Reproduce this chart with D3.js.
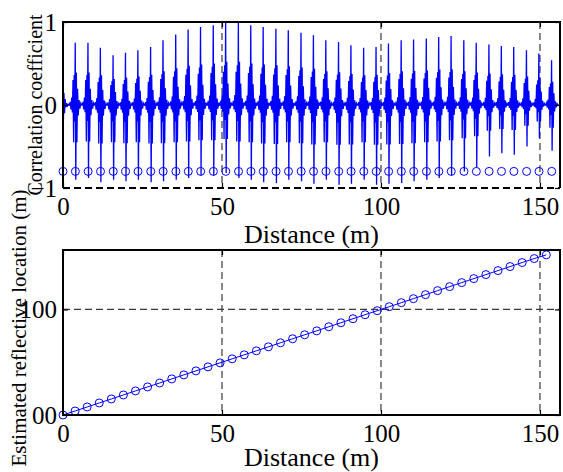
<!DOCTYPE html>
<html>
<head>
<meta charset="utf-8">
<script src="https://cdn.jsdelivr.net/npm/d3@7"></script>
<style>
  body { margin: 0; background: #fff; }
  svg { display: block; }
  svg text { font-family: "Liberation Serif", "Times New Roman", Times, "DejaVu Serif", serif; }
</style>
</head>
<body>
<div id="chart"></div>
<script>
// ---- data ----
// top panel: positions of the reflections (m) and their correlation peaks
const echoDist = [0.0, 3.9, 7.9, 11.8, 15.8, 19.7, 23.6, 27.6, 31.5, 35.5,
  39.4, 43.3, 47.3, 51.2, 55.2, 59.1, 63.0, 67.0, 70.9, 74.9,
  78.8, 82.7, 86.7, 90.6, 94.6, 98.5, 102.4, 106.4, 110.3, 114.3,
  118.2, 122.1, 126.1, 130.0, 134.0, 137.9, 141.8, 145.8, 149.7, 153.7];
const peakPos = [0.28, 0.75, 0.75, 0.69, 0.60, 0.63, 0.66, 0.70, 0.78, 0.85,
  0.91, 0.94, 0.96, 1.00, 1.00, 0.96, 0.94, 0.92, 0.90, 0.87,
  0.84, 0.78, 0.76, 0.72, 0.69, 0.70, 0.74, 0.78, 0.79, 0.80,
  0.82, 0.83, 0.78, 0.75, 0.73, 0.71, 0.70, 0.66, 0.62, 0.54];
const peakNeg = [-0.20, -0.90, -0.88, -0.93, -0.90, -0.92, -0.90, -0.93, -0.92, -0.90,
  -0.88, -0.85, -0.85, -0.82, -0.88, -0.90, -0.93, -0.94, -0.90, -0.92,
  -0.95, -0.90, -0.96, -0.95, -0.90, -0.96, -0.95, -0.94, -0.92, -0.90,
  -0.88, -0.85, -0.80, -0.75, -0.62, -0.58, -0.60, -0.50, -0.40, -0.55];
// shape of one correlation pulse (offset in m, relative level)
const pulseOffset = [-1.9, -1.6, -1.4, -1.15, -0.95, -0.75, -0.55, -0.38, -0.22, -0.05,
  0.12, 0.3, 0.48, 0.68, 0.9, 1.15, 1.4, 1.7, 1.95];
const pulseShape = [0.0, 0.05, -0.06, 0.12, -0.10, 0.40, -0.50, 0.48, -0.22, 1.00,
  -1.00, 0.52, -0.50, 0.26, -0.14, 0.08, -0.05, 0.03, 0.0];
const markerLevel = -0.8;

// bottom panel: distance vs estimated reflective location (m)
const trueDist = [0, 3.8, 7.6, 11.4, 15.2, 19.0, 22.8, 26.6, 30.4, 34.2,
  38.0, 41.8, 45.6, 49.4, 53.2, 57.0, 60.8, 64.6, 68.4, 72.2,
  76.0, 79.8, 83.6, 87.4, 91.2, 95.0, 98.8, 102.6, 106.4, 110.2,
  114.0, 117.8, 121.6, 125.4, 129.2, 133.0, 136.8, 140.6, 144.4, 148.2, 152.0];
const estLocation = [0, 3.8, 7.6, 11.4, 15.2, 19.0, 22.8, 26.6, 30.3, 34.2,
  38.0, 41.8, 45.6, 49.4, 53.2, 57.0, 60.8, 64.6, 68.4, 72.2,
  76.0, 79.7, 83.6, 87.4, 91.2, 95.0, 98.8, 102.6, 106.4, 110.2,
  114.0, 117.8, 121.6, 125.4, 129.2, 133.0, 136.8, 140.6, 144.4, 148.2, 151.7];

const distTicks = [0, 50, 100, 150];
const corrTicks = [-1, 0, 1];
const locTicks = [0, 100];
const locTickLabels = ['00', '100'];
const distMax = 156.3;

// ---- layout ----
const W = 563, H = 472;
const left = 63, right = 560;
const topPanel = { top: 22, bottom: 188 };
const botPanel = { top: 250, bottom: 415 };
const gridColor = '#3a3a3a';
const serif = '"Liberation Serif", "Times New Roman", Times, "DejaVu Serif", serif';

const svg = d3.select('#chart').append('svg')
  .attr('width', W).attr('height', H)
  .attr('font-family', serif);
svg.append('rect').attr('width', W).attr('height', H).attr('fill', '#fff');

const x = d3.scaleLinear().domain([0, distMax]).range([left, right]);
const yCorr = d3.scaleLinear().domain([-1, 1]).range([topPanel.bottom, topPanel.top]);
const yLoc = d3.scaleLinear().domain([0, distMax]).range([botPanel.bottom, botPanel.top]);

function drawGrid(g, yScale, yGrid, p) {
  g.selectAll('.vgrid').data(distTicks.filter(d => d > 0)).enter()
    .append('line')
    .attr('x1', d => x(d)).attr('x2', d => x(d))
    .attr('y1', p.top).attr('y2', p.bottom)
    .attr('stroke', gridColor).attr('stroke-width', 1.2)
    .attr('stroke-dasharray', '7,4');
  g.selectAll('.hgrid').data(yGrid).enter()
    .append('line')
    .attr('x1', left).attr('x2', right)
    .attr('y1', d => yScale(d)).attr('y2', d => yScale(d))
    .attr('stroke', gridColor).attr('stroke-width', 1.2)
    .attr('stroke-dasharray', '7,4');
}

function drawAxes(g, yScale, yTicks, yFormat, p) {
  // bottom x axis, ticks pointing inward
  const xb = g.append('g').attr('transform', `translate(0,${p.bottom})`)
    .call(d3.axisBottom(x).tickValues(distTicks).tickSizeInner(-5).tickSizeOuter(0).tickPadding(9));
  // mirrored top ticks
  const xt = g.append('g').attr('transform', `translate(0,${p.top})`)
    .call(d3.axisTop(x).tickValues(distTicks).tickSizeInner(-5).tickSizeOuter(0).tickFormat(''));
  const yl = g.append('g').attr('transform', `translate(${left},0)`)
    .call(d3.axisLeft(yScale).tickValues(yTicks).tickFormat(yFormat)
      .tickSizeInner(-5).tickSizeOuter(0).tickPadding(6));
  const yr = g.append('g').attr('transform', `translate(${right},0)`)
    .call(d3.axisRight(yScale).tickValues(yTicks).tickSizeInner(-5).tickSizeOuter(0).tickFormat(''));
  [xb, xt, yl, yr].forEach(a => {
    a.attr('font-family', serif).attr('font-size', 25);
    a.select('.domain').remove();
    a.selectAll('line').attr('stroke', '#000').attr('stroke-width', 1.2);
    a.selectAll('text').attr('fill', '#000');
  });
}

// ---- top panel: correlation coefficient ----
const gTop = svg.append('g');
drawGrid(gTop, yCorr, corrTicks, topPanel);

// build the trace from the pulse shape scaled by each reflection's peaks
const corrTrace = [];
echoDist.forEach((c, i) => {
  pulseOffset.forEach((o, j) => {
    const s = pulseShape[j];
    const v = s >= 0 ? s * peakPos[i] : -s * peakNeg[i];
    const d = c + o;
    if (d >= 0 && d <= distMax) corrTrace.push({ d: d, v: v });
  });
});

gTop.append('path')
  .datum(corrTrace)
  .attr('fill', 'none')
  .attr('stroke', '#0000ff')
  .attr('stroke-width', 1.3)
  .attr('d', d3.line().x(d => x(d.d)).y(d => yCorr(d.v)));

gTop.selectAll('.marker')
  .data(echoDist)
  .enter()
  .append('circle')
  .attr('cx', d => x(d))
  .attr('cy', yCorr(markerLevel))
  .attr('r', 4)
  .attr('fill', 'none')
  .attr('stroke', '#0000ff')
  .attr('stroke-width', 1);

// box: solid left/top/right, bottom edge shows as the dashed grid line
gTop.append('path')
  .attr('d', `M${left},${topPanel.bottom}V${topPanel.top}H${right}V${topPanel.bottom}`)
  .attr('fill', 'none').attr('stroke', '#000').attr('stroke-width', 2);
gTop.append('line')
  .attr('x1', left).attr('x2', right)
  .attr('y1', topPanel.bottom).attr('y2', topPanel.bottom)
  .attr('stroke', '#000').attr('stroke-width', 2).attr('stroke-dasharray', '7,4');

drawAxes(gTop, yCorr, corrTicks, d3.format('d'), topPanel);

// ---- bottom panel: estimated location ----
const gBot = svg.append('g');
drawGrid(gBot, yLoc, [100], botPanel);

const locPoints = trueDist.map((d, i) => ({ d: d, v: estLocation[i] }));
gBot.append('path')
  .datum(locPoints)
  .attr('fill', 'none')
  .attr('stroke', '#0000ff')
  .attr('stroke-width', 1)
  .attr('d', d3.line().x(d => x(d.d)).y(d => yLoc(d.v)));

gBot.selectAll('.pt')
  .data(locPoints)
  .enter()
  .append('circle')
  .attr('cx', d => x(d.d))
  .attr('cy', d => yLoc(d.v))
  .attr('r', 4)
  .attr('fill', 'none')
  .attr('stroke', '#0000ff')
  .attr('stroke-width', 1);

gBot.append('rect')
  .attr('x', left).attr('y', botPanel.top)
  .attr('width', right - left).attr('height', botPanel.bottom - botPanel.top)
  .attr('fill', 'none').attr('stroke', '#000').attr('stroke-width', 2);

drawAxes(gBot, yLoc, locTicks, (d, i) => locTickLabels[i], botPanel);

// ---- axis labels ----
svg.append('text')
  .attr('x', (left + right) / 2).attr('y', 243)
  .attr('text-anchor', 'middle')
  .attr('font-size', 26)
  .text('Distance (m)');
svg.append('text')
  .attr('x', (left + right) / 2).attr('y', 466)
  .attr('text-anchor', 'middle')
  .attr('font-size', 26)
  .text('Distance (m)');

svg.append('text')
  .attr('transform', `translate(42,${(topPanel.top + topPanel.bottom) / 2}) rotate(-90)`)
  .attr('text-anchor', 'middle')
  .attr('font-size', 20)
  .text('Correlation coefficient');
svg.append('text')
  .attr('transform', 'translate(26,328) rotate(-90)')
  .attr('text-anchor', 'middle')
  .attr('font-size', 21)
  .text('Estimated reflective location (m)');
</script>
</body>
</html>
